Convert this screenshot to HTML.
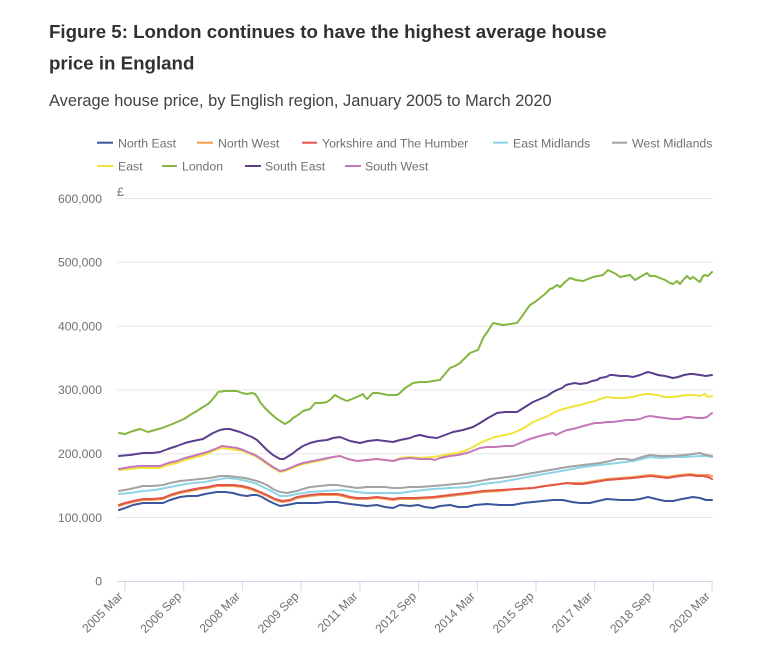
<!DOCTYPE html>
<html>
<head>
<meta charset="utf-8">
<style>
html,body{margin:0;padding:0;background:#fff;}
svg{display:block;}
text{font-family:"Liberation Sans",Arial,sans-serif;}
</style>
</head>
<body>
<svg width="775" height="655" viewBox="0 0 775 655" xmlns="http://www.w3.org/2000/svg">
<rect width="775" height="655" fill="#fff"/>
<text x="49" y="38" font-size="18.7" font-weight="bold" fill="#323132">Figure 5: London continues to have the highest average house</text>
<text x="49" y="69.5" font-size="18.7" font-weight="bold" fill="#323132">price in England</text>
<text x="49" y="106" font-size="16.4" fill="#414042">Average house price, by English region, January 2005 to March 2020</text>

<g font-size="12.3" fill="#707071" stroke-width="2">
<line x1="97" y1="142.7" x2="113" y2="142.7" stroke="#3b559f"/><text x="118" y="147.3">North East</text>
<line x1="197" y1="142.7" x2="213" y2="142.7" stroke="#f0a050"/><text x="218" y="147.3">North West</text>
<line x1="302" y1="142.7" x2="317" y2="142.7" stroke="#e2564a"/><text x="322" y="147.3">Yorkshire and The Humber</text>
<line x1="493" y1="142.7" x2="508" y2="142.7" stroke="#8ed3e6"/><text x="513" y="147.3">East Midlands</text>
<line x1="612" y1="142.7" x2="627" y2="142.7" stroke="#a3a3a3"/><text x="632" y="147.3">West Midlands</text>
<line x1="97" y1="166" x2="113" y2="166" stroke="#efe53a"/><text x="118" y="170.7">East</text>
<line x1="162" y1="166" x2="177" y2="166" stroke="#84b640"/><text x="182" y="170.7">London</text>
<line x1="245" y1="166" x2="261" y2="166" stroke="#5b3f8e"/><text x="265" y="170.7">South East</text>
<line x1="345" y1="166" x2="361" y2="166" stroke="#c676bc"/><text x="365" y="170.7">South West</text>
</g>

<g stroke="#e6e6e6" stroke-width="1">
<line x1="117" y1="198.5" x2="713" y2="198.5"/>
<line x1="117" y1="262.3" x2="713" y2="262.3"/>
<line x1="117" y1="326.1" x2="713" y2="326.1"/>
<line x1="117" y1="389.9" x2="713" y2="389.9"/>
<line x1="117" y1="453.7" x2="713" y2="453.7"/>
<line x1="117" y1="517.5" x2="713" y2="517.5"/>
</g>
<g font-size="12.2" fill="#707071" text-anchor="end">
<text x="102" y="202.8">600,000</text>
<text x="102" y="266.6">500,000</text>
<text x="102" y="330.4">400,000</text>
<text x="102" y="394.2">300,000</text>
<text x="102" y="458">200,000</text>
<text x="102" y="521.8">100,000</text>
<text x="102" y="585.6">0</text>
</g>
<text x="117" y="196" font-size="12.2" fill="#707071">£</text>

<g stroke="#ccd6eb" stroke-width="1">
<line x1="117" y1="581.5" x2="713" y2="581.5"/>
<line x1="125" y1="581" x2="125" y2="591"/>
<line x1="183.7" y1="581" x2="183.7" y2="591"/>
<line x1="242.4" y1="581" x2="242.4" y2="591"/>
<line x1="301.1" y1="581" x2="301.1" y2="591"/>
<line x1="359.9" y1="581" x2="359.9" y2="591"/>
<line x1="418.6" y1="581" x2="418.6" y2="591"/>
<line x1="477.3" y1="581" x2="477.3" y2="591"/>
<line x1="536" y1="581" x2="536" y2="591"/>
<line x1="594.7" y1="581" x2="594.7" y2="591"/>
<line x1="653.4" y1="581" x2="653.4" y2="591"/>
<line x1="712.1" y1="581" x2="712.1" y2="591"/>
</g>
<g font-size="12.2" fill="#707071" text-anchor="end">
<text transform="translate(123.5,597) rotate(-45)">2005 Mar</text>
<text transform="translate(182.2,597) rotate(-45)">2006 Sep</text>
<text transform="translate(240.9,597) rotate(-45)">2008 Mar</text>
<text transform="translate(299.6,597) rotate(-45)">2009 Sep</text>
<text transform="translate(358.4,597) rotate(-45)">2011 Mar</text>
<text transform="translate(417.1,597) rotate(-45)">2012 Sep</text>
<text transform="translate(475.8,597) rotate(-45)">2014 Mar</text>
<text transform="translate(534.5,597) rotate(-45)">2015 Sep</text>
<text transform="translate(593.2,597) rotate(-45)">2017 Mar</text>
<text transform="translate(651.9,597) rotate(-45)">2018 Sep</text>
<text transform="translate(710.6,597) rotate(-45)">2020 Mar</text>
</g>

<g fill="none" stroke-width="2" stroke-linejoin="round" stroke-linecap="round">
<!-- North East -->
<polyline stroke="#3b559f" points="119,510 125,508 133,505 143,503 152,503 163,503 170,500 180,497 188,496 197,496 205,494 217,492 225,492 233,493 240,495 247,496 252,495 257,495 262,497 267,500 273,503 280,506 287,505 297,503 305,503 317,503 327,502 337,502 343,503 350,504 358,505 367,506 377,505 385,507 393,508 400,505 410,506 418,505 425,507 433,508 440,506 450,505 458,507 467,507 475,505 487,504 500,505 513,505 523,503 533,502 543,501 553,500 563,500 572,502 580,503 590,503 598,501 607,499 620,500 633,500 640,499 648,497 656,499 665,501 673,501 682,499 693,497 700,498 706,500 712,500"/>
<!-- North West -->
<polyline stroke="#f0a050" points="119,506 125,504 133,502 143,500 152,500 163,499 170,496 180,493 190,491 200,489 208,488 217,486 225,486 233,486 242,487 250,489 258,492 267,496 275,500 282,502 290,501 297,498 303,497 310,496 320,495 330,495 337,495 343,496 350,498 357,499 367,499 377,498 385,499 393,500 400,499 415,499 433,498 450,496 467,494 483,492 500,491 517,489 533,488 545,486 553,485 567,483 575,483 583,483 595,481 607,479 620,478 633,477 642,476 650,475 660,476 667,477 680,475 690,474 697,475 703,475 708,475 712,476"/>
<!-- Yorkshire -->
<polyline stroke="#e2564a" points="119,505 125,503 133,501 143,499 152,499 163,498 170,495 180,492 190,490 200,488 208,487 217,485 225,485 233,485 242,486 250,488 258,491 267,495 275,499 282,501 290,500 297,497 303,496 310,495 320,494 330,494 337,494 343,495 350,497 357,498 367,498 377,497 385,498 393,499 400,498 415,498 433,497 450,495 467,493 483,491 500,490 517,489 533,488 545,486 553,485 567,483 575,484 583,484 595,482 607,480 620,479 633,478 642,477 650,476 660,477 667,478 680,476 690,475 697,476 703,476 708,477 712,479"/>
<!-- East Midlands -->
<polyline stroke="#8ed3e6" points="119,494 130,493 143,491 155,490 165,488 180,485 193,483 205,482 215,480 227,478 237,479 247,481 257,484 267,489 275,493 280,496 287,496 297,494 310,492 325,491 343,490 357,492 367,493 377,493 393,493 400,493 415,491 433,489 450,488 467,487 483,484 500,482 517,479 533,476 550,473 567,470 583,467 600,465 617,463 633,461 642,459 650,457 660,458 673,457 685,457 700,456 706,456 712,457"/>
<!-- West Midlands -->
<polyline stroke="#a3a3a3" points="119,491 130,489 143,486 152,486 163,485 170,483 180,481 190,480 200,479 210,478 220,476 228,476 237,477 245,478 253,480 260,482 267,485 273,489 280,492 287,493 292,492 297,491 303,489 310,487 320,486 330,485 337,485 343,486 350,487 357,488 367,487 377,487 385,487 393,488 400,488 410,487 420,487 433,486 445,485 455,484 467,483 480,481 490,479 500,478 515,476 533,473 550,470 567,467 583,465 600,463 610,461 617,459 625,459 633,460 642,457 650,455 660,456 673,456 685,455 693,454 700,453 706,455 712,456"/>
<!-- East -->
<polyline stroke="#efe53a" points="119,470 130,469 140,468 150,468 160,468 168,465 177,463 185,460 193,458 200,456 207,454 215,450 222,448 230,449 237,450 243,451 250,454 255,456 260,459 267,464 273,468 280,472 285,471 290,469 297,466 303,464 313,462 323,460 333,457 340,456 348,459 357,461 367,460 377,459 385,460 393,461 400,458 410,457 420,458 433,457 440,456 450,454 458,453 467,450 475,446 480,443 487,440 495,437 505,435 513,433 520,430 527,426 533,422 540,419 548,416 553,413 560,410 567,408 575,406 580,405 587,403 595,401 600,399 607,397 615,398 622,398 633,397 640,395 645,394 650,394 657,395 665,397 673,397 680,396 687,395 693,395 700,396 705,394 708,397 712,396"/>
<!-- London -->
<polyline stroke="#84b640" points="119,433 125,434 133,431 140,429 148,432 155,430 162,428 170,425 177,422 184,419 190,415 197,411 203,407 208,404 212,400 216,395 218,392 225,391 232,391 237,391 242,393 247,394 252,393 255,394 258,398 260,402 265,408 270,413 277,419 285,424 290,421 293,418 298,415 303,411 310,409 315,403 321,403 327,402 331,399 335,395 340,398 347,401 352,399 357,397 363,394 365,397 367,399 370,396 373,393 378,393 383,394 388,395 392,395 397,395 400,393 405,388 410,385 413,383 420,382 427,382 433,381 440,380 445,374 450,368 455,366 460,363 465,358 470,353 475,351 478,350 481,343 483,338 488,331 493,323 498,324 503,325 510,324 517,323 520,319 523,315 527,309 530,305 535,302 540,298 545,294 550,289 553,288 557,285 560,287 565,282 570,278 576,280 583,281 588,279 593,277 598,276 603,275 606,272 608,270 612,272 616,274 620,277 625,276 630,275 635,280 640,277 647,273 650,276 655,276 660,278 665,280 670,283 673,284 677,281 680,284 684,279 687,276 690,279 693,277 697,280 700,282 703,276 705,275 708,276 712,272"/>
<!-- South East -->
<polyline stroke="#5b3f8e" points="119,456 130,455 143,453 152,453 160,452 168,449 177,446 185,443 193,441 203,439 208,436 213,433 220,430 225,429 230,429 233,430 240,432 247,435 252,437 257,440 262,445 267,450 273,455 280,459 284,459 287,457 292,454 297,450 303,446 310,443 318,441 327,440 333,438 340,437 345,439 350,441 355,442 360,443 368,441 377,440 385,441 393,442 400,440 405,439 410,438 415,436 420,435 428,437 437,438 445,435 453,432 463,430 473,427 480,423 488,418 497,413 505,412 512,412 517,412 525,407 533,402 540,399 547,396 553,392 557,390 562,388 566,385 570,384 575,383 580,384 587,383 592,381 597,380 600,378 606,377 610,375 613,375 620,376 627,376 633,377 640,375 645,373 648,372 652,373 658,375 665,376 673,378 678,377 684,375 690,374 693,374 700,375 706,376 712,375"/>
<!-- South West -->
<polyline stroke="#c676bc" points="119,469 130,467 140,466 150,466 160,466 168,463 177,461 185,458 193,456 200,454 207,452 215,449 222,446 230,447 237,448 243,450 250,453 255,455 260,458 267,463 273,467 280,471 285,470 290,468 297,465 303,463 313,461 323,459 333,457 340,456 348,459 357,461 367,460 377,459 385,460 393,461 400,459 410,458 420,459 430,459 435,460 440,458 450,456 458,455 467,453 475,450 480,448 487,447 495,447 505,446 513,446 520,443 527,440 533,438 540,436 548,434 553,433 556,435 560,433 567,430 573,429 580,427 587,425 595,423 600,423 607,422 613,422 620,421 627,420 633,420 640,419 645,417 650,416 657,417 665,418 672,419 680,419 686,417 690,417 697,418 703,418 707,417 712,413"/>
</g>
</svg>
</body>
</html>
